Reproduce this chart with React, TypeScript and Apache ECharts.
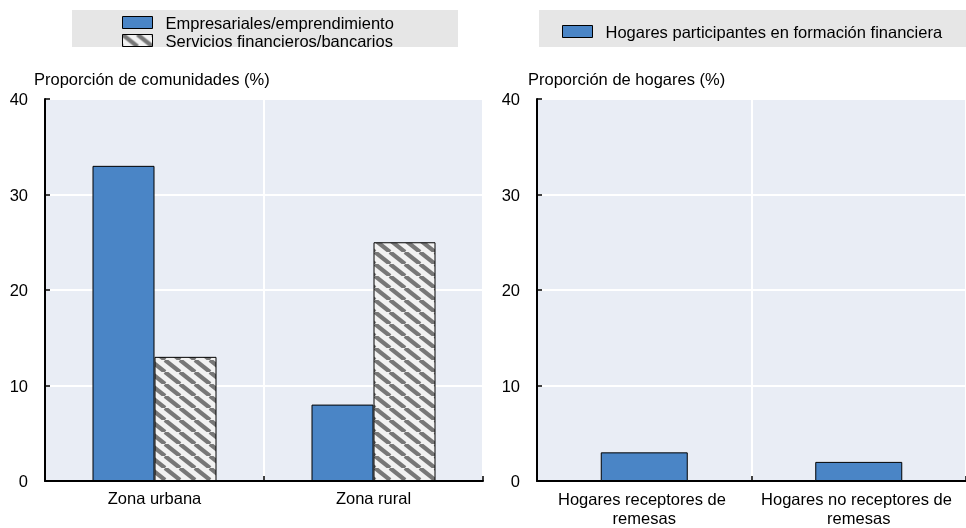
import React, { useEffect, useRef } from "react";
import * as echarts from "echarts";

const leftCategories = ["Zona urbana", "Zona rural"];
const empresariales = [33, 8];
const servicios = [13, 25];
const rightCategories = ["Hogares receptores de remesas", "Hogares no receptores de remesas"];
const hogaresFormacion = [3, 2];
const yTicks = { min: 0, max: 40, interval: 10 };

const seriesNames = [
  "Empresariales/emprendimiento",
  "Servicios financieros/bancarios",
  "Hogares participantes en formación financiera",
];
const leftAxisTitle = "Proporción de comunidades (%)";
const rightAxisTitle = "Proporción de hogares (%)";

const FONT = "'Liberation Sans', Arial, sans-serif";
const FS = 16.5;
const BLUE = "#4a85c6";
const BG = "#e9edf5";

function makeHatch(): HTMLCanvasElement {
  const w = 15;
  const h = 12;
  const c = document.createElement("canvas");
  c.width = w;
  c.height = h;
  const ctx = c.getContext("2d")!;
  ctx.fillStyle = "#f2f2f2";
  ctx.fillRect(0, 0, w, h);
  ctx.strokeStyle = "#777777";
  ctx.lineWidth = 4.2;
  for (const k of [-1, 0, 1]) {
    ctx.beginPath();
    ctx.moveTo(k * w, 0);
    ctx.lineTo(k * w + w, h);
    ctx.stroke();
  }
  return c;
}

export default function App() {
  const ref = useRef<HTMLDivElement>(null);
  useEffect(() => {
    if (!ref.current) return;
    const chart = echarts.init(ref.current, undefined, { renderer: "svg" });
    const hatch = { image: makeHatch(), repeat: "repeat" } as any;
    const axisLabel = { color: "#000", fontSize: FS, fontFamily: FONT };
    const yAxisCommon = {
      type: "value",
      min: yTicks.min,
      max: yTicks.max,
      interval: yTicks.interval,
      axisLine: { show: true, lineStyle: { color: "#000", width: 2 } },
      axisTick: { show: true, inside: true, length: 5, lineStyle: { color: "#000", width: 1.5 } },
      axisLabel: { ...axisLabel, margin: 17 },
      splitLine: { show: true, lineStyle: { color: "#ffffff", width: 2 } },
    };
    const xAxisCommon = {
      type: "category",
      axisLine: { show: true, lineStyle: { color: "#000", width: 2 } },
      axisTick: { show: true, inside: true, length: 5, lineStyle: { color: "#000", width: 1.5 } },
      splitLine: { show: true, interval: 0, lineStyle: { color: "#ffffff", width: 2 } },
    };
    const legendCommon = {
      orient: "horizontal",
      icon: "rect",
      itemWidth: 30,
      itemHeight: 12,
      itemStyle: { borderColor: "#000", borderWidth: 1 },
      textStyle: { color: "#000", fontSize: FS, fontFamily: FONT, padding: [0, 0, 0, 8] },
      selectedMode: false,
    };
    chart.setOption({
      animation: false,
      textStyle: { fontFamily: FONT },
      graphic: [
        { type: "rect", shape: { x: 72, y: 10, width: 386, height: 37 }, style: { fill: "#e6e6e6" }, z: -10 },
        { type: "rect", shape: { x: 539, y: 10, width: 440, height: 37 }, style: { fill: "#e6e6e6" }, z: -10 },
        { type: "text", left: 34, top: 70, style: { text: leftAxisTitle, fill: "#000", fontSize: FS, fontFamily: FONT } },
        { type: "text", left: 528, top: 70, style: { text: rightAxisTitle, fill: "#000", fontSize: FS, fontFamily: FONT } },
      ],
      legend: [
        { ...legendCommon, data: [seriesNames[0]], left: 117, top: 9 },
        { ...legendCommon, data: [seriesNames[1]], left: 117, top: 27 },
        { ...legendCommon, data: [seriesNames[2]], left: 557, top: 18 },
      ],
      grid: [
        { left: 45, top: 99, width: 438, height: 382, show: true, backgroundColor: BG, borderColor: "#000", borderWidth: 1 },
        { left: 537, top: 99, width: 436, height: 382, show: true, backgroundColor: BG, borderColor: "#000", borderWidth: 1 },
      ],
      xAxis: [
        { ...xAxisCommon, gridIndex: 0, data: leftCategories, axisLabel: { ...axisLabel, margin: 8 } },
        {
          ...xAxisCommon,
          gridIndex: 1,
          data: rightCategories,
          axisLabel: { ...axisLabel, margin: 8, width: 205, overflow: "break", lineHeight: 19, interval: 0 },
        },
      ],
      yAxis: [
        { ...yAxisCommon, gridIndex: 0 },
        { ...yAxisCommon, gridIndex: 1 },
      ],
      series: [
        {
          name: seriesNames[0],
          type: "bar",
          xAxisIndex: 0,
          yAxisIndex: 0,
          data: empresariales,
          barWidth: 62,
          barGap: "0%",
          itemStyle: { color: BLUE, borderColor: "#000", borderWidth: 1 },
        },
        {
          name: seriesNames[1],
          type: "bar",
          xAxisIndex: 0,
          yAxisIndex: 0,
          data: servicios,
          barWidth: 62,
          barGap: "0%",
          itemStyle: { color: hatch, borderColor: "#000", borderWidth: 1 },
        },
        {
          name: seriesNames[2],
          type: "bar",
          xAxisIndex: 1,
          yAxisIndex: 1,
          data: hogaresFormacion,
          barWidth: 87,
          itemStyle: { color: BLUE, borderColor: "#000", borderWidth: 1 },
        },
      ],
    });
    return () => chart.dispose();
  }, []);
  return <div ref={ref} style={{ position: "fixed", left: 0, top: 0, width: 966, height: 528 }} />;
}
